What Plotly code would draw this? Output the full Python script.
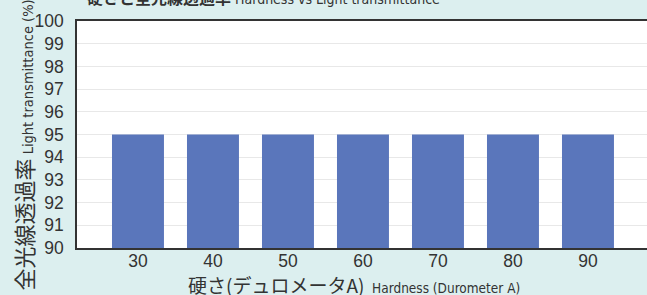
import plotly.graph_objects as go

hardness = ["30", "40", "50", "60", "70", "80", "90"]
transmittance = [95, 95, 95, 95, 95, 95, 95]
y_ticks = list(range(90, 101))

BG = "#dcefef"
BAR = "#5a76bb"
TXT = "#333333"

W, H = 662, 295
L, R, T, B = 77, 0, 21, 47
pw, ph = W - L - R, H - T - B
x_lo = -0.813
x_hi = x_lo + pw / 75.0

def px(x):
    return (x - L) / pw

def py(y):
    return (H - B - y) / ph

fig = go.Figure()
fig.add_trace(go.Bar(x=hardness, y=transmittance, marker=dict(color=BAR, line=dict(width=0))))

fig.update_layout(
    width=W, height=H,
    margin=dict(l=L, r=R, t=T, b=B, pad=0),
    paper_bgcolor=BG, plot_bgcolor="white",
    bargap=0.307, showlegend=False,
    font=dict(family="Liberation Sans, Arial, sans-serif", color=TXT),
)
fig.update_xaxes(
    type="category", range=[x_lo, x_hi],
    showline=True, linecolor="#333333", linewidth=1.5, mirror=True,
    ticks="", tickfont=dict(size=17.5, color=TXT), ticklabelstandoff=-4,
    showgrid=False,
)
fig.update_yaxes(
    range=[90, 100], tickvals=y_ticks,
    showline=True, linecolor="#333333", linewidth=1.5,
    ticks="", tickfont=dict(size=17.5, color=TXT), ticklabelstandoff=8,
    showgrid=True, gridcolor="#e8e8e8", gridwidth=1, zeroline=False,
)

JP = "Noto Sans CJK JP"
NARROW = "Liberation Sans Narrow, DejaVu Sans Condensed, Arial Narrow, sans-serif"

# y-axis title
fig.add_annotation(
    xref="paper", yref="paper", x=px(22), y=py(293), xanchor="center", yanchor="bottom",
    textangle=-90, showarrow=False,
    text=(f"<span style='font-family:{JP};font-size:22px'>全光線透過率</span>"
          f"<span style='font-family:{NARROW};font-size:14.5px'> Light transmittance (%)</span>"),
    font=dict(color=TXT),
)
# x-axis title
fig.add_annotation(
    xref="paper", yref="paper", x=px(186), y=py(284), xanchor="left", yanchor="middle",
    showarrow=False,
    text=(f"<span style='font-family:{JP};font-size:19px'>硬さ(デュロメータA)</span>"
          f"<span style='font-family:{NARROW};font-size:13.5px'>  Hardness (Durometer A)</span>"),
    font=dict(color=TXT),
)
# chart title (cropped at top)
fig.add_annotation(
    xref="paper", yref="paper", x=px(85), y=py(11), xanchor="left", yanchor="bottom",
    showarrow=False,
    text=(f"<span style='font-family:{JP};font-size:16px;font-weight:bold'>硬さと全光線透過率</span>"
          f"<span style='font-family:{NARROW};font-size:14px'> Hardness vs Light transmittance</span>"),
    font=dict(color=TXT),
)

fig.write_html(
    "out.html",
    config={"displayModeBar": False},
    post_script=("document.body.style.margin='0';document.body.style.overflow='hidden';"
                 "document.documentElement.style.overflow='hidden';"),
)
